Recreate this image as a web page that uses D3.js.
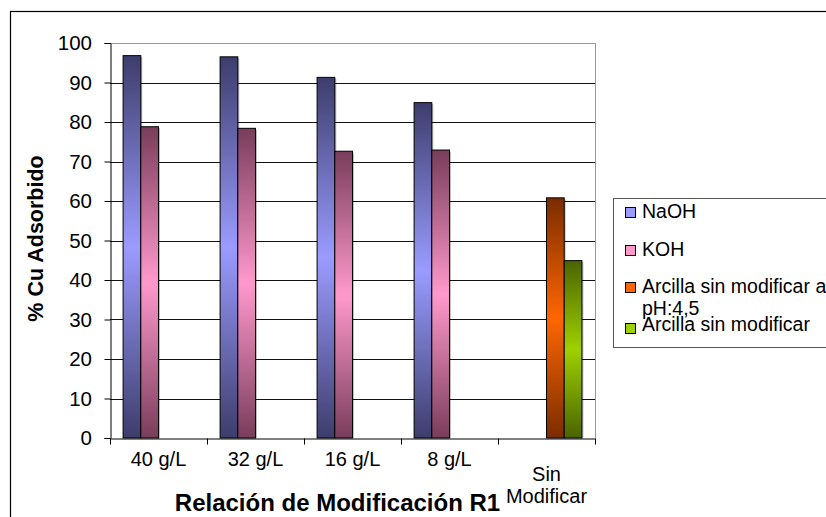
<!DOCTYPE html>
<html>
<head>
<meta charset="utf-8">
<script src="https://cdn.jsdelivr.net/npm/d3@7"></script>
<style>
  body { margin: 0; background: #fff; }
  text { font-family: Arial, "Liberation Sans", sans-serif; }
</style>
</head>
<body>
<div id="chart"></div>
<script>
// categories and series
const categories = ["40 g/L", "32 g/L", "16 g/L", "8 g/L", "Sin\nModificar"];
const seriesNames = ["NaOH", "KOH", "Arcilla sin modificar a\npH:4,5", "Arcilla sin modificar"];
const naoh = [96.8, 96.5, 91.3, 84.9, null];
const koh = [78.8, 78.4, 72.6, 72.9, null];
const arcillaPH = [null, null, null, null, 60.8];
const arcilla = [null, null, null, null, 44.9];
const yTicks = [0, 10, 20, 30, 40, 50, 60, 70, 80, 90, 100];

const svgWidth = 826;
const svgHeight = 517;

const plot = { left: 110, right: 595, top: 43, bottom: 438 };

const colors = [
  { dark: "#3d3d6c", light: "#9b9bff" },
  { dark: "#793d5b", light: "#ff99cc" },
  { dark: "#7a2c00", light: "#ff6600" },
  { dark: "#4a6400", light: "#9fd000" }
];

const allSeries = [naoh, koh, arcillaPH, arcilla];

const svg = d3.select("#chart")
  .append("svg")
  .attr("width", svgWidth)
  .attr("height", svgHeight);

// gradients: dark at both ends, light in the middle
const defs = svg.append("defs");
colors.forEach((c, i) => {
  const g = defs.append("linearGradient")
    .attr("id", "grad" + i)
    .attr("x1", 0).attr("y1", 0).attr("x2", 0).attr("y2", 1);
  g.append("stop").attr("offset", "0%").attr("stop-color", c.dark);
  g.append("stop").attr("offset", "50%").attr("stop-color", c.light);
  g.append("stop").attr("offset", "100%").attr("stop-color", c.dark);
});

// outer chart border (runs off right and bottom)
svg.append("rect")
  .attr("x", 10.5).attr("y", 11.5)
  .attr("width", 900).attr("height", 600)
  .attr("fill", "none").attr("stroke", "#000").attr("stroke-width", 1.2);

const xScale = d3.scaleBand()
  .domain(categories)
  .range([plot.left, plot.right])
  .padding(0);

const x1 = d3.scaleBand()
  .domain(d3.range(seriesNames.length))
  .range([0, xScale.bandwidth()])
  .paddingInner(0)
  .paddingOuter(0.74);

const yScale = d3.scaleLinear()
  .domain([0, 100])
  .range([plot.bottom, plot.top]);

// gridlines
svg.append("g")
  .selectAll("line")
  .data(yTicks.filter(d => d > 0))
  .enter()
  .append("line")
  .attr("x1", plot.left).attr("x2", plot.right)
  .attr("y1", d => Math.round(yScale(d)) + 0.5)
  .attr("y2", d => Math.round(yScale(d)) + 0.5)
  .attr("stroke", d => d === 100 ? "#999" : "#111")
  .attr("stroke-width", 1);

// plot area right border
svg.append("line")
  .attr("x1", plot.right + 0.5).attr("x2", plot.right + 0.5)
  .attr("y1", plot.top).attr("y2", plot.bottom)
  .attr("stroke", "#999");

// bars
allSeries.forEach((vals, si) => {
  const data = vals.map((v, i) => ({ cat: categories[i], v })).filter(d => d.v !== null);
  const grp = svg.append("g");
  // soft shadow
  grp.selectAll(".shadow")
    .data(data)
    .enter()
    .append("rect")
    .attr("x", d => xScale(d.cat) + x1(si) + 1.5)
    .attr("y", d => yScale(d.v) + 1.5)
    .attr("width", x1.bandwidth())
    .attr("height", d => plot.bottom - yScale(d.v) - 1.5)
    .attr("fill", "#000").attr("opacity", 0.25);
  grp.selectAll(".bar")
    .data(data)
    .enter()
    .append("rect")
    .attr("x", d => xScale(d.cat) + x1(si))
    .attr("y", d => yScale(d.v))
    .attr("width", x1.bandwidth())
    .attr("height", d => plot.bottom - yScale(d.v))
    .attr("fill", `url(#grad${si})`)
    .attr("stroke", "#000").attr("stroke-width", 1);
});

// y axis
const yAxis = d3.axisLeft(yScale).tickValues(yTicks).tickSize(6).tickPadding(12.5);
const yG = svg.append("g")
  .attr("transform", `translate(${plot.left + 0.5},0)`)
  .call(yAxis);
yG.select(".domain").attr("stroke", "#000");
yG.selectAll(".tick line").attr("stroke", "#000");
yG.selectAll(".tick text")
  .attr("font-size", "20.5px").attr("fill", "#000")
  .style("font-family", "Arial, 'Liberation Sans', sans-serif");

// x axis
const xAxis = d3.axisBottom(xScale).tickSize(0).tickFormat("");
const xG = svg.append("g")
  .attr("transform", `translate(0,${plot.bottom + 0.5})`)
  .call(xAxis);
xG.select(".domain").attr("stroke", "#000");
// tick marks between categories
xG.selectAll(".sep")
  .data(categories.concat(["end"]))
  .enter()
  .append("line")
  .attr("x1", (d, i) => i < categories.length ? Math.round(xScale(d)) + 0.5 : plot.right + 0.5)
  .attr("x2", (d, i) => i < categories.length ? Math.round(xScale(d)) + 0.5 : plot.right + 0.5)
  .attr("y1", 0).attr("y2", 6)
  .attr("stroke", "#000");

// category labels (two-line label drawn as two texts)
categories.forEach(c => {
  const lines = c.split("\n");
  const cx = xScale(c) + xScale.bandwidth() / 2;
  const baseY = lines.length === 1 ? [466] : [481, 503];
  lines.forEach((ln, j) => {
    svg.append("text")
      .attr("text-anchor", "middle")
      .attr("font-size", "20px")
      .attr("x", cx)
      .attr("y", baseY[j])
      .text(ln);
  });
});

// axis titles
svg.append("text")
  .attr("x", 337.5).attr("y", 511)
  .attr("text-anchor", "middle")
  .attr("font-size", "24px").attr("font-weight", "bold")
  .text("Relación de Modificación R1");

svg.append("text")
  .attr("transform", `translate(43, 238.5) rotate(-90)`)
  .attr("text-anchor", "middle")
  .attr("font-size", "21.5px").attr("font-weight", "bold")
  .text("% Cu Adsorbido");

// legend
const legend = svg.append("g");
legend.append("rect")
  .attr("x", 613.5).attr("y", 198.5)
  .attr("width", 300).attr("height", 149)
  .attr("fill", "#fff").attr("stroke", "#555").attr("stroke-width", 1);

const swatchY = [207, 245, 282, 323];
const textY = [218, 256, 293, 331];
seriesNames.forEach((name, i) => {
  legend.append("rect")
    .attr("x", 625.5).attr("y", swatchY[i] + 0.5)
    .attr("width", 10).attr("height", 10)
    .attr("fill", colors[i].light)
    .attr("stroke", "#000").attr("stroke-width", 1);
  const lines = name.split("\n");
  const t = legend.append("text")
    .attr("font-size", "19.5px")
    .attr("x", 642);
  lines.forEach((ln, j) => {
    t.append("tspan").attr("x", 642).attr("y", textY[i] + j * 22).text(ln);
  });
});
</script>
</body>
</html>
